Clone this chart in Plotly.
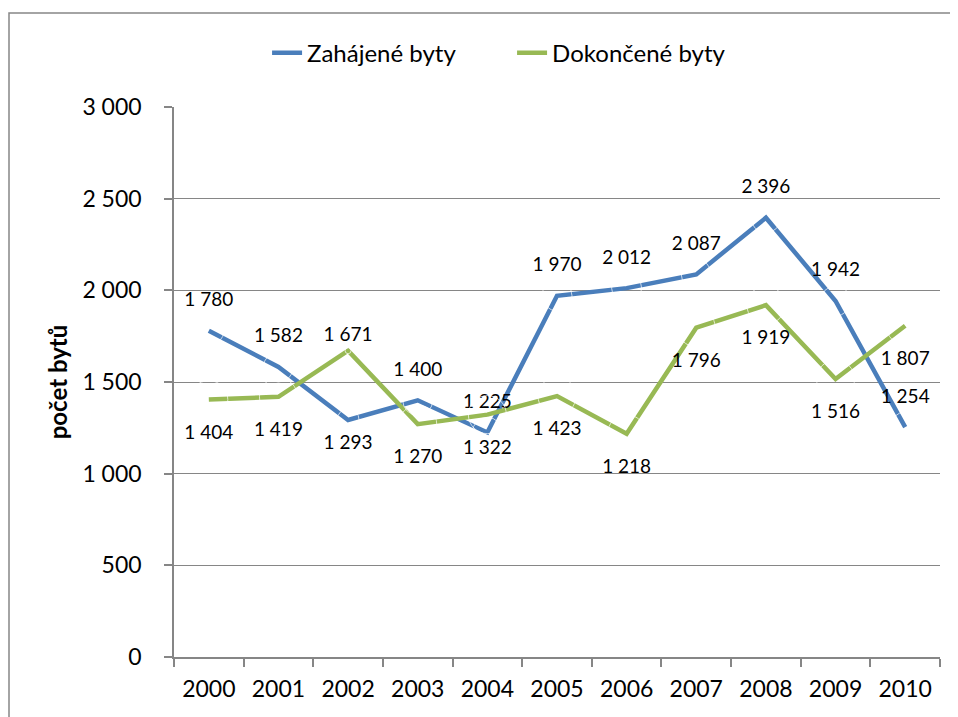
import plotly.graph_objects as go

years = ["2000", "2001", "2002", "2003", "2004", "2005", "2006", "2007", "2008", "2009", "2010"]
zahajene = [1780, 1582, 1293, 1400, 1225, 1970, 2012, 2087, 2396, 1942, 1254]
dokoncene = [1404, 1419, 1671, 1270, 1322, 1423, 1218, 1796, 1919, 1516, 1807]
series_names = ["Zahájené byty", "Dokončené byty"]
y_ticks = [0, 500, 1000, 1500, 2000, 2500, 3000]

BLUE = "#4A7EBB"
GREEN = "#98B954"
GRAY = "#868686"
FONT = "Lato"
LABEL_SIZE = 19

# label placement (style): position and invisible marker size used as offset
blue_pos = ["top center"] * len(years)
blue_pos[2] = "bottom center"
blue_msize = [30] * len(years)
blue_msize[2] = 22
green_pos = ["bottom center"] * len(years)
green_pos[2] = "top center"
green_msize = [38] * len(years)
green_msize[2] = 6


def fmt(v):
    return f"{v:,}".replace(",", " ")


fig = go.Figure()
fig.add_trace(go.Scatter(x=years, y=zahajene, mode="lines", name=series_names[0],
                         line=dict(color=BLUE, width=4.5), hoverinfo="skip"))
fig.add_trace(go.Scatter(x=years, y=dokoncene, mode="lines", name=series_names[1],
                         line=dict(color=GREEN, width=4.5), hoverinfo="skip"))
fig.add_trace(go.Scatter(x=years, y=zahajene, mode="markers+text", showlegend=False,
                         text=[fmt(v) for v in zahajene], textposition=blue_pos,
                         marker=dict(size=blue_msize, color="rgba(0,0,0,0)"),
                         textfont=dict(family=FONT, size=LABEL_SIZE, color="#000000"),
                         hoverinfo="skip", cliponaxis=False))
fig.add_trace(go.Scatter(x=years, y=dokoncene, mode="markers+text", showlegend=False,
                         text=[fmt(v) for v in dokoncene], textposition=green_pos,
                         marker=dict(size=green_msize, color="rgba(0,0,0,0)"),
                         textfont=dict(family=FONT, size=LABEL_SIZE, color="#000000"),
                         hoverinfo="skip", cliponaxis=False))

fig.update_layout(
    width=950, height=709,
    margin=dict(l=166, r=18, t=99, b=60),
    paper_bgcolor="white", plot_bgcolor="white",
    font=dict(family=FONT, size=23, color="#000000"),
    showlegend=True,
    legend=dict(orientation="h", x=0.1215, xanchor="left", y=1.098, yanchor="middle",
                entrywidth=200, entrywidthmode="pixels",
                font=dict(family=FONT, size=24), bgcolor="rgba(0,0,0,0)"),
    shapes=[dict(type="rect", xref="paper", yref="paper", x0=-0.2154, x1=1.03,
                 y0=-0.12, y1=1.1709, line=dict(color=GRAY, width=1.5), layer="below")],
)

fig.update_xaxes(type="category", range=[-0.5, 10.5], tickson="boundaries", ticks="outside",
                 ticklen=8, tickcolor=GRAY, tickwidth=1.5, showline=True, linecolor=GRAY,
                 linewidth=1.5, showgrid=False, tickfont=dict(family=FONT, size=23),
                 ticklabelstandoff=11)
fig.update_yaxes(range=[0, 3000], tickvals=y_ticks, ticktext=[fmt(v) for v in y_ticks],
                 ticks="outside", ticklen=8, tickcolor=GRAY, tickwidth=1.5, showline=True,
                 linecolor=GRAY, linewidth=1.5, showgrid=True, gridcolor=GRAY, gridwidth=1.2,
                 zeroline=False, tickfont=dict(family=FONT, size=23), ticklabelstandoff=18,
                 title=dict(text="<b>počet bytů</b>", font=dict(family=FONT, size=24), standoff=8))

fig.write_html("out.html")
